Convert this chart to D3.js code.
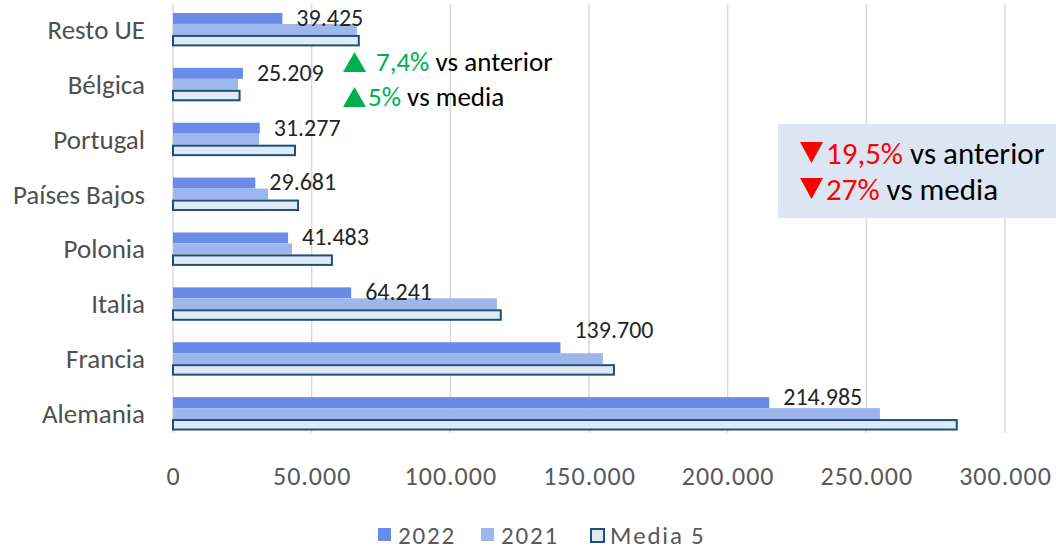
<!DOCTYPE html>
<html>
<head>
<meta charset="utf-8">
<title>Exportaciones por país</title>
<script src="https://cdn.jsdelivr.net/npm/d3@7"></script>
<style>
  body { margin: 0; background: #fff; }
  svg { display: block; font-family: Calibri, Carlito, "Liberation Sans", sans-serif; }
</style>
</head>
<body>
<div id="chart"></div>
<script>
// datos
var paises = ["Resto UE", "Bélgica", "Portugal", "Países Bajos", "Polonia", "Italia", "Francia", "Alemania"];
var v2022 = [39425, 25209, 31277, 29681, 41483, 64241, 139700, 214985];
var v2021 = [66300, 23470, 31000, 34300, 42900, 116800, 155000, 254900];
var media5 = [67000, 24010, 44000, 45100, 57300, 118200, 159000, 282600];
var series = ["2022", "2021", "Media 5"];
var ticks = [0, 50000, 100000, 150000, 200000, 250000, 300000];

var width = 1056, height = 550;
var colors = { "2022": "#6A8CE8", "2021": "#9DB7EC", "Media 5": "#DEEAF6" };

var es = d3.formatLocale({ decimal: ",", thousands: ".", grouping: [3], currency: ["", "€"] });
var fmt = es.format(",.0f");

var svg = d3.select("#chart").append("svg")
    .attr("width", width)
    .attr("height", height);

var x = d3.scaleLinear().domain([0, 300000]).range([173, 1005]);
var y = d3.scaleBand().domain(paises).range([2, 441]).paddingInner(0.4).paddingOuter(0.2);
var ySub = d3.scaleBand().domain(series).range([0, y.bandwidth()]);

// rejilla
svg.append("g").selectAll("line")
    .data(ticks)
    .enter().append("line")
    .attr("x1", function (d) { return x(d); })
    .attr("x2", function (d) { return x(d); })
    .attr("y1", 4)
    .attr("y2", 433)
    .attr("stroke", "#D9D9D9")
    .attr("stroke-width", 1.5);

// eje x
var xAxis = svg.append("g")
    .attr("transform", "translate(0,476)")
    .call(d3.axisBottom(x).tickValues(ticks).tickSize(0).tickFormat(function (d) { return fmt(d); }));
xAxis.select(".domain").remove();
xAxis.selectAll("text")
    .attr("dy", "0.35em")
    .attr("y", 0)
    .attr("fill", "#595959")
    .style("font-size", "26px")
    .style("letter-spacing", "1px")
    .style("font-family", "Calibri, Carlito, 'Liberation Sans', sans-serif");

// etiquetas de categoría
svg.append("g").selectAll("text")
    .data(paises)
    .enter().append("text")
    .attr("x", 145)
    .attr("y", function (d) { return y(d) + y.bandwidth() / 2; })
    .attr("dy", "0.35em")
    .attr("text-anchor", "end")
    .attr("fill", "#505050")
    .style("font-size", "27px")
    .text(function (d) { return d; });

var rows = paises.map(function (p, i) {
    return { pais: p, vals: [
        { s: "2022", v: v2022[i] },
        { s: "2021", v: v2021[i] },
        { s: "Media 5", v: media5[i] }
    ] };
});

var grp = svg.append("g").selectAll("g")
    .data(rows)
    .enter().append("g")
    .attr("transform", function (d) { return "translate(0," + y(d.pais) + ")"; });

grp.selectAll("rect")
    .data(function (d) { return d.vals; })
    .enter().append("rect")
    .attr("x", x(0))
    .attr("y", function (d) { return ySub(d.s) + (d.s === "Media 5" ? 1 : 0); })
    .attr("width", function (d) { return x(d.v) - x(0); })
    .attr("height", function (d) { return ySub.bandwidth() - (d.s === "Media 5" ? 1.5 : 0); })
    .attr("fill", function (d) { return colors[d.s]; })
    .attr("stroke", function (d) { return d.s === "Media 5" ? "#1F4E79" : "none"; })
    .attr("stroke-width", 2);

// etiquetas de valor (2022)
var shift = { "Francia": -17, "Alemania": -5 };
grp.append("text")
    .attr("x", function (d) { return x(d.vals[0].v) + 14; })
    .attr("y", function (d) { return ySub("2022") + ySub.bandwidth() / 2 - 1 + (shift[d.pais] || 0); })
    .attr("dy", "0.35em")
    .attr("fill", "#262626")
    .style("font-size", "24px")
    .text(function (d) { return fmt(d.vals[0].v); });

function tri(g, x0, y0, w, h, up, color) {
    var p = up
        ? [[x0, y0 + h], [x0 + w / 2, y0], [x0 + w, y0 + h]]
        : [[x0, y0], [x0 + w, y0], [x0 + w / 2, y0 + h]];
    g.append("path").attr("d", d3.line()(p) + "Z").attr("fill", color);
}

// anotación verde
var up = svg.append("g").style("font-size", "27px");
tri(up, 343, 52, 23, 20, true, "#00B050");
tri(up, 343, 87, 23, 20, true, "#00B050");
var l1 = up.append("text").attr("x", 376).attr("y", 71);
l1.append("tspan").attr("fill", "#00B050").text("7,4%");
l1.append("tspan").attr("fill", "#000").text(" vs anterior");
var l2 = up.append("text").attr("x", 368).attr("y", 106);
l2.append("tspan").attr("fill", "#00B050").text("5%");
l2.append("tspan").attr("fill", "#000").text(" vs media");

// anotación roja
var dn = svg.append("g").style("font-size", "31px");
dn.append("rect").attr("x", 778).attr("y", 124).attr("width", 278).attr("height", 94).attr("fill", "#DCE6F2");
tri(dn, 800, 142, 23, 21, false, "#FF0000");
tri(dn, 800, 178, 23, 21, false, "#FF0000");
var r1 = dn.append("text").attr("x", 826).attr("y", 164);
r1.append("tspan").attr("fill", "#FF0000").text("19,5%");
r1.append("tspan").attr("fill", "#000").text(" vs anterior");
var r2 = dn.append("text").attr("x", 826).attr("y", 200);
r2.append("tspan").attr("fill", "#FF0000").text("27%");
r2.append("tspan").attr("fill", "#000").text(" vs media");

// leyenda
var legX = [378, 481, 590];
var leg = svg.append("g").selectAll("g")
    .data(series)
    .enter().append("g")
    .attr("transform", function (d, i) { return "translate(" + legX[i] + ",528)"; });
leg.append("rect")
    .attr("width", 13).attr("height", 13)
    .attr("x", function (d) { return d === "Media 5" ? 1 : 0; })
    .attr("y", function (d) { return d === "Media 5" ? 1 : 0; })
    .attr("fill", function (d) { return colors[d]; })
    .attr("stroke", function (d) { return d === "Media 5" ? "#1F4E79" : "none"; })
    .attr("stroke-width", 2);
leg.append("text")
    .attr("x", 20).attr("y", 7)
    .attr("dy", "0.35em")
    .attr("fill", "#595959")
    .style("font-size", "25px")
    .style("letter-spacing", "1.8px")
    .text(function (d) { return d; });
</script>
</body>
</html>
